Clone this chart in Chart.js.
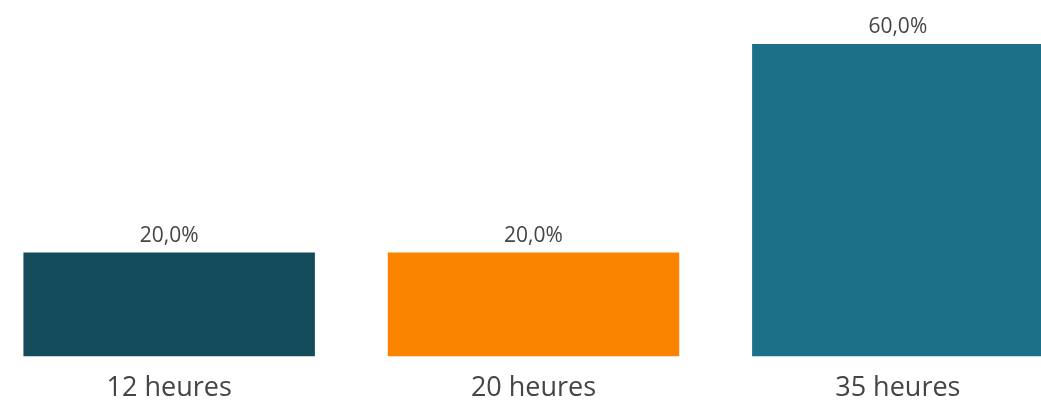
<!DOCTYPE html>
<html>
<head>
<meta charset="utf-8">
<script src="https://cdn.jsdelivr.net/npm/chart.js@4"></script>
<style>
    html, body { margin: 0; padding: 0; background: #fff; overflow: hidden; }
    #wrap { position: absolute; left: -13px; top: 0; width: 1093px; height: 417px; }
</style>
</head>
<body>
<div id="wrap"><canvas id="chart"></canvas></div>
<script>
// Chart data
const categories = ['12 heures', '20 heures', '35 heures'];
const shares = [20, 20, 60];
const barColors = ['#144b5b', '#fa8400', '#1c7088'];

// Draw value labels above each bar (e.g. "20,0%")
const valueLabels = {
    id: 'valueLabels',
    afterDatasetsDraw(chart) {
        const ctx = chart.ctx;
        const meta = chart.getDatasetMeta(0);
        ctx.save();
        ctx.font = '21px "Open Sans", sans-serif';
        ctx.fillStyle = '#454545';
        ctx.textAlign = 'center';
        ctx.textBaseline = 'bottom';
        meta.data.forEach((bar, i) => {
            const txt = shares[i].toFixed(1).replace('.', ',') + '%';
            ctx.fillText(txt, bar.x, bar.y - 6);
        });
        ctx.restore();
    }
};

new Chart(document.getElementById('chart'), {
    type: 'bar',
    data: {
        labels: categories,
        datasets: [{
            data: shares,
            backgroundColor: barColors,
            barPercentage: 0.8,
            categoryPercentage: 1.0
        }]
    },
    options: {
        responsive: true,
        maintainAspectRatio: false,
        animation: false,
        layout: { padding: { top: 44, bottom: 4, left: 0, right: 0 } },
        plugins: {
            legend: { display: false },
            tooltip: { enabled: false }
        },
        scales: {
            x: {
                grid: { display: false },
                border: { display: false },
                ticks: {
                    color: '#454545',
                    font: { family: '"Open Sans", sans-serif', size: 27 },
                    padding: 8
                }
            },
            y: {
                display: false,
                min: 0,
                max: 60
            }
        }
    },
    plugins: [valueLabels]
});
</script>
</body>
</html>
